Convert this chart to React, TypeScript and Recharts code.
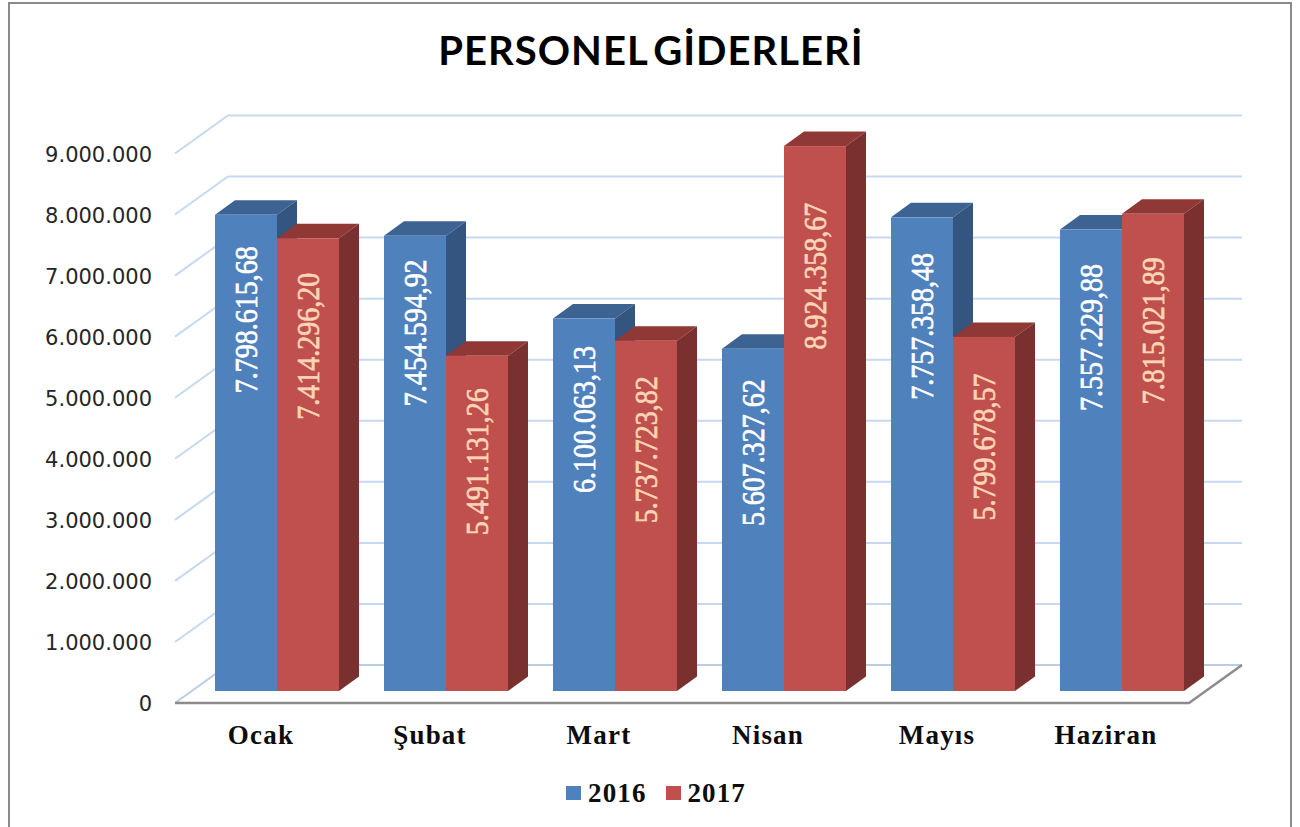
import { Bar, BarChart, CartesianGrid, LabelList, Legend, XAxis, YAxis } from "recharts"

const months = ["Ocak", "Şubat", "Mart", "Nisan", "Mayıs", "Haziran"]
const values2016 = [7798615.68, 7454594.92, 6100063.13, 5607327.62, 7757358.48, 7557229.88]
const values2017 = [7414296.2, 5491131.26, 5737723.82, 8924358.67, 5799678.57, 7815021.89]
const yTicks = [0, 1000000, 2000000, 3000000, 4000000, 5000000, 6000000, 7000000, 8000000, 9000000]

const data = months.map((month, i) => ({ month, y2016: values2016[i], y2017: values2017[i] }))

// distance from the bar top to the middle of its rotated label, as placed in the original
const labelDrop2016 = [105, 97, 101, 104, 109, 108]
const labelDrop2017 = [108, 106, 109, 130, 110, 117]

const SERIF = '"Liberation Serif", serif'
const BLUE = { front: "#4f81bd", top: "#3d6392", side: "#34557f" }
const RED = { front: "#c0504d", top: "#8f3836", side: "#7a302e" }

const formatAxis = (v: number) => v.toLocaleString("tr-TR")
const formatValue = (v: number) =>
  v.toLocaleString("tr-TR", { minimumFractionDigits: 2, maximumFractionDigits: 2 })

function Bar3D({ x, y, width, height, colors }: any) {
  const dx = 20
  const dy = 14.5
  const right = x + width
  const bottom = y + height
  return (
    <g>
      <polygon points={`${x},${y} ${x + dx},${y - dy} ${right + dx},${y - dy} ${right},${y}`} fill={colors.top} />
      <polygon
        points={`${right},${y} ${right + dx},${y - dy} ${right + dx},${bottom - dy} ${right},${bottom}`}
        fill={colors.side}
      />
      <rect x={x} y={y} width={width} height={height} fill={colors.front} />
    </g>
  )
}

function WallLine({ x1, x2, y1 }: any) {
  const isFloor = y1 > 680
  const stroke = "#c6d9f1"
  if (isFloor) {
    return (
      <g fill="none">
        <polyline points={`${x1 - 17},${y1 + 12} ${x1 + 36},${y1 - 26} ${x2 + 36},${y1 - 26}`} stroke="#b9cde5" strokeWidth={2} />
        <polyline
          points={`${x1 - 17},${y1 + 12} ${x2 - 17},${y1 + 12} ${x2 + 36},${y1 - 26}`}
          stroke="#8c8c8c"
          strokeWidth={2.5}
        />
      </g>
    )
  }
  return (
    <polyline
      points={`${x1 - 17},${y1 + 12} ${x1 + 36},${y1 - 26} ${x2 + 36},${y1 - 26}`}
      fill="none"
      stroke={stroke}
      strokeWidth={2}
    />
  )
}

function YTick({ y, payload }: any) {
  return (
    <text x={152} y={y + 12} dy={8} textAnchor="end" fontFamily="DejaVu Sans" fontSize={21} fill="#262626">
      {formatAxis(payload.value)}
    </text>
  )
}

function XTick({ x, payload }: any) {
  return (
    <text
      x={x - 15.5}
      y={744}
      textAnchor="middle"
      fontFamily={SERIF}
      fontWeight="bold"
      fontSize={27}
      letterSpacing={1.2}
      fill="#0d0d0d"
    >
      {payload.value}
    </text>
  )
}

function RotatedLabel({ x, y, width, value, index, drops, fill }: any) {
  const cx = x + width / 2
  const cy = y + drops[index]
  return (
    <text
      transform={`translate(${cx},${cy}) rotate(-90) scale(1,1.12)`}
      textAnchor="middle"
      dominantBaseline="central"
      fontFamily={SERIF}
      stroke={fill}
      strokeWidth={0.6}
      fontSize={28}
      fill={fill}
    >
      {formatValue(value)}
    </text>
  )
}

function LegendRow({ payload }: any) {
  return (
    <div style={{ height: 50, display: "flex", justifyContent: "center", paddingLeft: 125, boxSizing: "border-box" }}>
      {(payload ?? []).map((entry: any) => (
        <div key={entry.value} style={{ display: "flex", alignItems: "center", height: 32, marginRight: 19 }}>
          <span style={{ width: 15, height: 14, background: entry.color, marginRight: 7 }} />
          <span
            style={{ fontFamily: SERIF, fontWeight: "bold", fontSize: 27, letterSpacing: 1.1, color: "#0d0d0d" }}
          >
            {entry.value}
          </span>
        </div>
      ))}
    </div>
  )
}

export default function App() {
  return (
    <div style={{ position: "absolute", left: 0, top: 0, width: 1300, height: 827, overflow: "hidden", background: "#fff" }}>
      <div
        style={{
          position: "absolute",
          left: 8,
          top: 2,
          width: 1284,
          height: 900,
          border: "solid #8a8a8a",
          borderWidth: "2.5px 2.5px 0 2.5px",
          boxSizing: "border-box",
        }}
      />
      <div
        style={{
          position: "absolute",
          left: 0,
          width: 1302,
          top: 24,
          textAlign: "center",
          fontFamily: "Lato",
          fontWeight: "bold",
          fontSize: 40,
          lineHeight: "52px",
          letterSpacing: 1,
          wordSpacing: -5,
          color: "#000",
        }}
      >
        PERSONEL GİDERLERİ
      </div>
      <div style={{ position: "absolute", left: 0, top: 0 }}>
        <BarChart
          width={1300}
          height={827}
          data={data}
          barGap={0}
          barCategoryGap={23}
          margin={{ top: 141.5, right: 94, bottom: 0, left: 0 }}
        >
          <CartesianGrid vertical={false} horizontal={(props: any) => <WallLine key={props.key} {...props} />} />
          <XAxis dataKey="month" height={86} axisLine={false} tickLine={false} interval={0} tick={<XTick />} />
          <YAxis
            width={192}
            domain={[0, 9000000]}
            ticks={yTicks}
            axisLine={false}
            tickLine={false}
            interval={0}
            tick={<YTick />}
          />
          <Legend height={50} verticalAlign="bottom" content={<LegendRow />} />
          <Bar
            dataKey="y2016"
            name="2016"
            fill={BLUE.front}
            isAnimationActive={false}
            shape={(props: any) => <Bar3D {...props} colors={BLUE} />}
          >
            <LabelList
              dataKey="y2016"
              content={(props: any) => <RotatedLabel {...props} drops={labelDrop2016} fill="#ffffff" />}
            />
          </Bar>
          <Bar
            dataKey="y2017"
            name="2017"
            fill={RED.front}
            isAnimationActive={false}
            shape={(props: any) => <Bar3D {...props} colors={RED} />}
          >
            <LabelList
              dataKey="y2017"
              content={(props: any) => <RotatedLabel {...props} drops={labelDrop2017} fill="#fcd5b5" />}
            />
          </Bar>
        </BarChart>
      </div>
    </div>
  )
}
